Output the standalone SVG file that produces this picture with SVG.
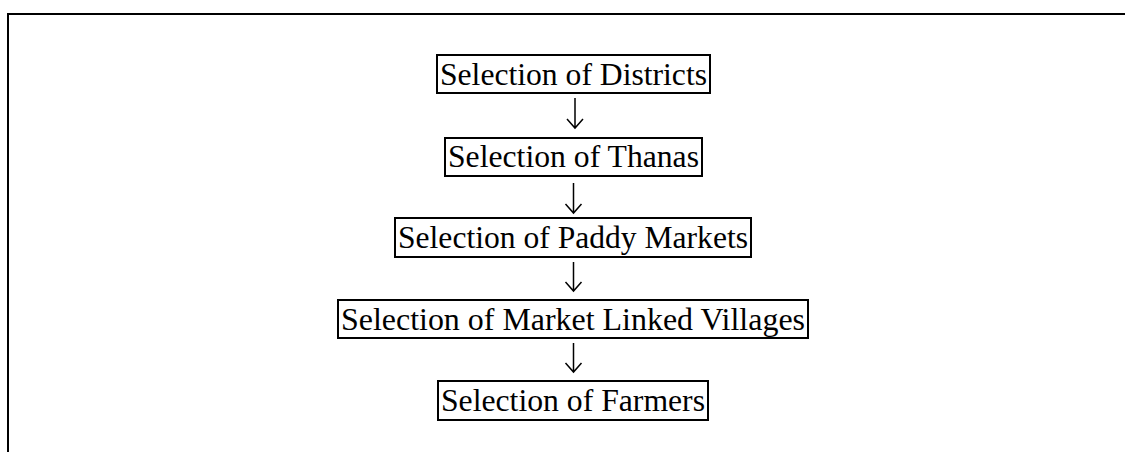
<svg xmlns="http://www.w3.org/2000/svg" width="1125" height="452" viewBox="0 0 1125 452">
<style>
.box{fill:#fff;stroke:#000;stroke-width:2}
.lbl{font-family:"Liberation Serif","Times New Roman",serif;font-size:31px;fill:#000;text-anchor:middle}
.arr{fill:none;stroke:#000;stroke-width:1.5}
.frame{fill:none;stroke:#000;stroke-width:2}
</style>
<rect width="1125" height="452" fill="#fff"/>
<path class="frame" d="M8 452 V14 H1125"/>
<g id="connectors">
<path class="arr" d="M575 98 V128 M567 119 L575 128 L583 119"/>
<path class="arr" d="M573.5 183 V213 M565.5 204 L573.5 213 L581.5 204"/>
<path class="arr" d="M573.5 262 V291 M565.5 282 L573.5 291 L581.5 282"/>
<path class="arr" d="M573.5 343 V372 M565.5 363 L573.5 372 L581.5 363"/>
</g>
<g id="districts">
<rect class="box" x="437" y="55" width="273" height="38"/>
<text class="lbl" x="573.5" y="85" textLength="267" lengthAdjust="spacingAndGlyphs">Selection of Districts</text>
</g>
<g id="thanas">
<rect class="box" x="445" y="138" width="257" height="38"/>
<text class="lbl" x="573.5" y="167" textLength="251" lengthAdjust="spacingAndGlyphs">Selection of Thanas</text>
</g>
<g id="paddy-markets">
<rect class="box" x="395" y="218" width="356" height="39"/>
<text class="lbl" x="573" y="248" textLength="350" lengthAdjust="spacingAndGlyphs">Selection of Paddy Markets</text>
</g>
<g id="villages">
<rect class="box" x="338" y="300" width="470" height="38"/>
<text class="lbl" x="573" y="330" textLength="464" lengthAdjust="spacingAndGlyphs">Selection of Market Linked Villages</text>
</g>
<g id="farmers">
<rect class="box" x="438" y="381" width="270" height="39"/>
<text class="lbl" x="573" y="411" textLength="264" lengthAdjust="spacingAndGlyphs">Selection of Farmers</text>
</g>
</svg>
